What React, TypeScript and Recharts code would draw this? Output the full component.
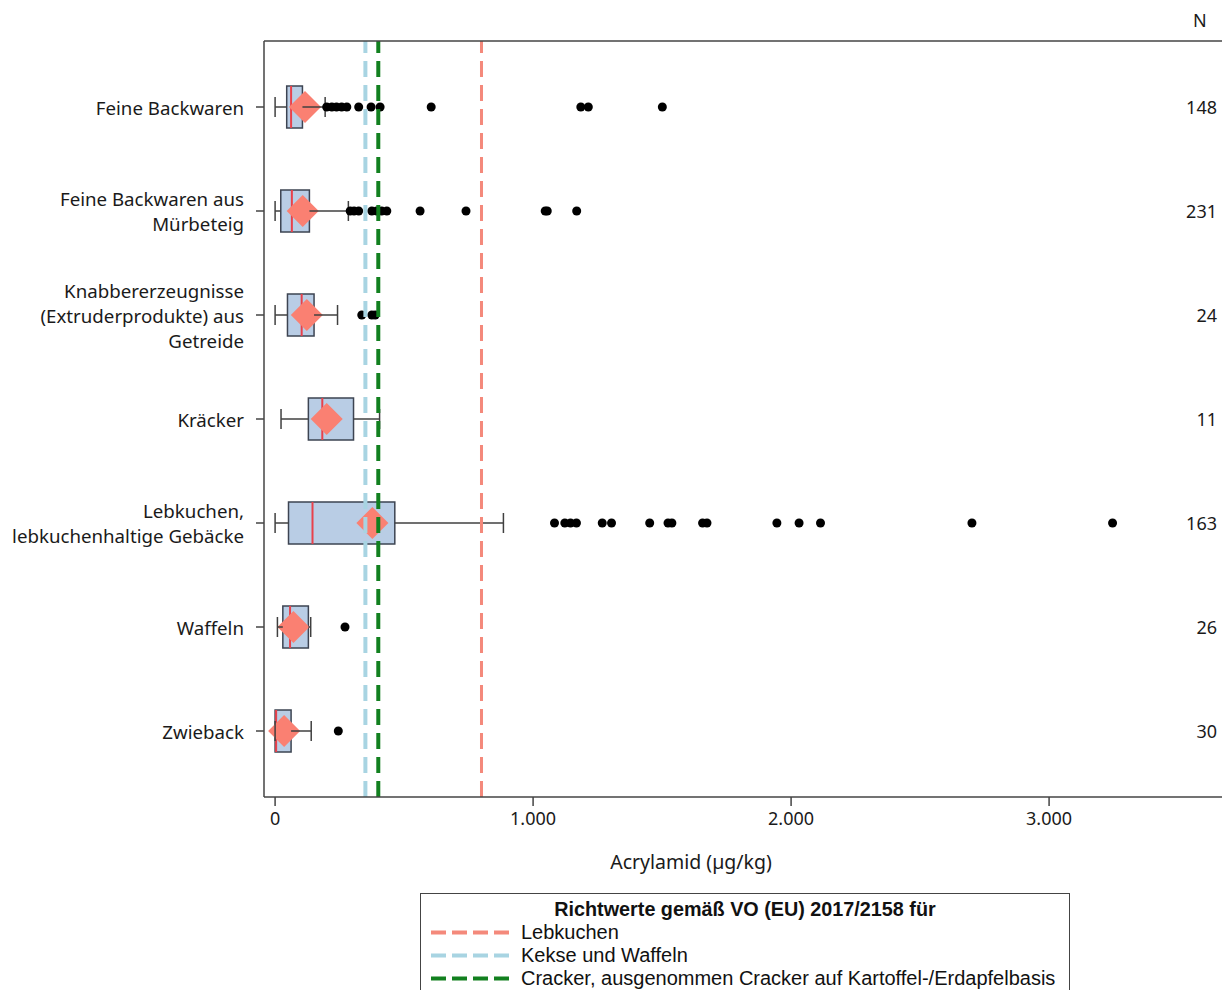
import React from 'react';
import { ComposedChart, Bar, XAxis, YAxis, ReferenceLine } from 'recharts';

const categories = [
  'Feine Backwaren',
  'Feine Backwaren aus Mürbeteig',
  'Knabbererzeugnisse (Extruderprodukte) aus Getreide',
  'Kräcker',
  'Lebkuchen, lebkuchenhaltige Gebäcke',
  'Waffeln',
  'Zwieback',
];
const labelLines = [
  ['Feine Backwaren'],
  ['Feine Backwaren aus', 'Mürbeteig'],
  ['Knabbererzeugnisse', '(Extruderprodukte) aus', 'Getreide'],
  ['Kräcker'],
  ['Lebkuchen,', 'lebkuchenhaltige Gebäcke'],
  ['Waffeln'],
  ['Zwieback'],
];
const counts = [148, 231, 24, 11, 163, 26, 30];

const mins = [0, 0, 0, 23, 0, 9, 0];
const q1s = [45, 22, 48, 129, 52, 30, 0];
const medians = [62, 65, 103, 183, 145, 58, 4];
const q3s = [106, 133, 151, 304, 464, 129, 62];
const maxs = [194, 284, 242, 405, 885, 138, 140];
const means = [116, 107, 123, 200, 377, 71, 35];
const outliers = [
  [200, 220, 238, 258, 278, 324, 372, 407, 605, 1185, 1214, 1501],
  [291, 306, 324, 375, 394, 413, 433, 562, 740, 1047, 1055, 1169],
  [336, 375, 388],
  [],
  [1083, 1123, 1145, 1168, 1268, 1304, 1452, 1523, 1538, 1657, 1674, 1945, 2031, 2114, 2701, 3246],
  [271],
  [245],
];

const xTicks = [0, 1000, 2000, 3000];

// Richtwerte
const limitLebkuchen = 800;
const limitKekse = 350;
const limitCracker = 400;

const data = categories.map((name, i) => ({
  name,
  min: mins[i],
  q1: q1s[i],
  median: medians[i],
  q3: q3s[i],
  max: maxs[i],
  mean: means[i],
  outliers: outliers[i],
}));

const FONT = '"Noto Sans", sans-serif';
const AXIS = '#444';

const fmt = (v: number) => String(v).replace(/\B(?=(\d{3})+(?!\d))/g, '.');

const BoxShape = (props: any) => {
  const { x, y, width, height, payload } = props;
  const k = width / (payload.q3 - payload.q1);
  const px = (v: number) => x + (v - payload.q1) * k;
  const cy = y + height / 2;
  const mx = px(payload.mean);
  const d = 16;
  return (
    <g>
      <rect x={x} y={y} width={width} height={height} fill="#b9cde5" stroke="#3d4452" strokeWidth={1.5} />
      <line x1={px(payload.median)} x2={px(payload.median)} y1={y} y2={y + height} stroke="#e8414b" strokeWidth={2} />
      <polygon
        points={`${mx - d},${cy} ${mx},${cy - d} ${mx + d},${cy} ${mx},${cy + d}`}
        fill="#fa8072"
      />
    </g>
  );
};

const WhiskerShape = (props: any) => {
  const { x, y, width, height, payload } = props;
  const k = width / (payload.max - payload.min);
  const px = (v: number) => x + (v - payload.min) * k;
  const cy = y + height / 2;
  const c = 10;
  const stroke = '#404040';
  return (
    <g>
      <line x1={px(payload.min)} x2={px(payload.q1)} y1={cy} y2={cy} stroke={stroke} strokeWidth={1.5} />
      <line x1={px(payload.q3)} x2={px(payload.max)} y1={cy} y2={cy} stroke={stroke} strokeWidth={1.5} />
      <line x1={px(payload.min)} x2={px(payload.min)} y1={cy - c} y2={cy + c} stroke={stroke} strokeWidth={1.5} />
      <line x1={px(payload.max)} x2={px(payload.max)} y1={cy - c} y2={cy + c} stroke={stroke} strokeWidth={1.5} />
      {payload.outliers.map((v: number, i: number) => (
        <circle key={i} cx={px(v)} cy={cy} r={4.5} fill="#000" />
      ))}
    </g>
  );
};

const CategoryTick = (props: any) => {
  const { x, y, payload } = props;
  const idx = categories.indexOf(payload.value);
  const lines = labelLines[idx] || [payload.value];
  const lh = 25;
  return (
    <g>
      {lines.map((t, i) => (
        <text
          key={i}
          x={x - 10}
          y={y + (i - (lines.length - 1) / 2) * lh}
          textAnchor="end"
          dominantBaseline="central"
          fontFamily={FONT}
          fontSize={18.7}
          fill="#1a1a1a"
        >
          {t}
        </text>
      ))}
      <text x={1217} y={y} textAnchor="end" dominantBaseline="central" fontFamily={FONT} fontSize={18} fill="#1a1a1a">
        {counts[idx]}
      </text>
    </g>
  );
};

const legendItems = [
  { label: 'Lebkuchen', color: '#f4897b' },
  { label: 'Kekse und Waffeln', color: '#a8d4e2' },
  { label: 'Cracker, ausgenommen Cracker auf Kartoffel-/Erdapfelbasis', color: '#12801f' },
];

export default function App() {
  return (
    <div style={{ position: 'relative', width: 1222, height: 990, overflow: 'hidden', background: '#fff' }}>
      <style>{'body{margin:0;overflow:hidden}'}</style>
      <div style={{ position: 'absolute', left: 1193, top: 8, fontFamily: FONT, fontSize: 18, color: '#1a1a1a' }}>N</div>
      <ComposedChart
        width={1240}
        height={880}
        data={data}
        layout="vertical"
        margin={{ top: 40, right: 0, bottom: 8, left: 0 }}
      >
        <XAxis
          type="number"
          domain={[-43, 3740]}
          ticks={xTicks}
          allowDataOverflow
          height={75}
          axisLine={{ stroke: AXIS, strokeWidth: 1.5 }}
          tickSize={9}
          tickMargin={6}
          tickLine={{ stroke: AXIS, strokeWidth: 1.5 }}
          tickFormatter={fmt}
          tick={{ fontFamily: FONT, fontSize: 18, fill: '#1a1a1a' }}
          label={{
            value: 'Acrylamid (µg/kg)',
            position: 'insideBottom',
            offset: 3,
            dx: -61,
            style: { fontFamily: FONT, fontSize: 19.5, fill: '#1a1a1a' },
          }}
        />
        <XAxis
          xAxisId="top"
          orientation="top"
          type="number"
          domain={[-43, 3740]}
          allowDataOverflow
          height={1}
          ticks={xTicks}
          tick={false}
          tickLine={false}
          axisLine={{ stroke: AXIS, strokeWidth: 1.5 }}
        />
        <YAxis
          yAxisId="a"
          type="category"
          dataKey="name"
          width={264}
          padding={{ top: 14, bottom: 14 }}
          axisLine={{ stroke: AXIS, strokeWidth: 1.5 }}
          tickSize={8}
          tickLine={{ stroke: AXIS, strokeWidth: 1.5 }}
          tick={<CategoryTick />}
          interval={0}
        />
        <YAxis yAxisId="b" type="category" dataKey="name" hide padding={{ top: 14, bottom: 14 }} />
        <Bar
          yAxisId="a"
          dataKey={(d: any) => [d.q1, d.q3]}
          barSize={42}
          shape={<BoxShape />}
          isAnimationActive={false}
        />
        <Bar
          yAxisId="b"
          dataKey={(d: any) => [d.min, d.max]}
          barSize={42}
          shape={<WhiskerShape />}
          isAnimationActive={false}
        />
        <ReferenceLine yAxisId="a" x={limitLebkuchen} stroke="#f4897b" strokeWidth={3} strokeDasharray="16 8" />
        <ReferenceLine yAxisId="a" x={limitKekse} stroke="#a8d4e2" strokeWidth={4} strokeDasharray="16 8" />
        <ReferenceLine yAxisId="a" x={limitCracker} stroke="#12801f" strokeWidth={4} strokeDasharray="16 8" />
      </ComposedChart>
      <div
        style={{
          position: 'absolute',
          left: 420,
          top: 893,
          width: 650,
          height: 120,
          border: '1.5px solid #444',
          background: '#fff',
          fontFamily: '"Liberation Sans", Arial, sans-serif',
          color: '#111',
          paddingTop: 4,
          boxSizing: 'border-box',
        }}
      >
        <div style={{ textAlign: 'center', fontWeight: 'bold', fontSize: 19.8, lineHeight: '23px' }}>
          Richtwerte gemäß VO (EU) 2017/2158 für
        </div>
        {legendItems.map((it) => (
          <div key={it.label} style={{ display: 'flex', alignItems: 'center', height: 23, fontSize: 20 }}>
            <svg width={100} height={23} style={{ flex: 'none' }}>
              <line x1={10} x2={88} y1={11.5} y2={11.5} stroke={it.color} strokeWidth={4} strokeDasharray="15 6" />
            </svg>
            <span>{it.label}</span>
          </div>
        ))}
      </div>
    </div>
  );
}
